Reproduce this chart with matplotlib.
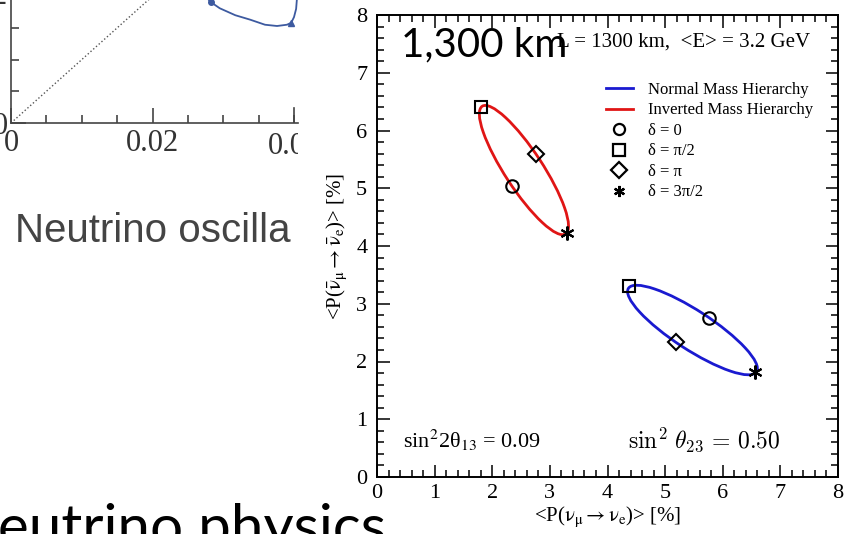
import numpy as np
import matplotlib
matplotlib.use("Agg")
import matplotlib.pyplot as plt
from matplotlib.lines import Line2D
from matplotlib.patches import Ellipse
from matplotlib.ticker import MultipleLocator
from matplotlib.transforms import Bbox, TransformedBbox

plt.rcParams['font.family'] = ['Liberation Serif', 'DejaVu Serif']
plt.rcParams['mathtext.fontset'] = 'stix'

W, H = 844, 534

# main chart: <P> values [%] at delta = 0, pi/2, pi, 3pi/2
nh_x = [5.76, 4.38, 5.19, 6.56]
nh_y = [2.76, 3.30, 2.33, 1.81]
ih_x = [2.34, 1.80, 2.76, 3.29]
ih_y = [5.04, 6.40, 5.59, 4.23]
delta_labels = ['δ = 0', 'δ = π/2', 'δ = π', 'δ = 3π/2']
delta_markers = ['o', 's', 'D', (6, 2, 0)]
hier_labels = ['Normal Mass Hierarchy', 'Inverted Mass Hierarchy']
hier_colors = ['#1a1ad0', '#e01515']

# partial chart at top left (only a corner of it is visible)
diag = [0.0, 0.03]
arc_x = [0.0276, 0.0282, 0.0295, 0.0317, 0.0338, 0.0359, 0.0376, 0.0390, 0.0396, 0.0400, 0.0403, 0.0404, 0.0404]
arc_y = [0.0199, 0.0191, 0.0181, 0.0170, 0.0163, 0.0155, 0.0153, 0.0155, 0.0158, 0.0167, 0.0180, 0.0194, 0.0202]
arc_dot = (0.0282, 0.0191)
arc_tri = (0.0396, 0.0158)


def fx(px):
    return px / W


def fy(py):
    return 1 - py / H


def ellipse_from_delta(xs, ys):
    # P(delta) = c + a cos(delta) + b sin(delta) -> ellipse through the 4 points
    cx, cy = (xs[0] + xs[2]) / 2, (ys[0] + ys[2]) / 2
    m = np.array([[(xs[0] - xs[2]) / 2, (xs[1] - xs[3]) / 2],
                  [(ys[0] - ys[2]) / 2, (ys[1] - ys[3]) / 2]])
    u, s, vt = np.linalg.svd(m)
    ang = np.degrees(np.arctan2(u[1, 0], u[0, 0]))
    return (cx, cy), 2 * s[0], 2 * s[1], ang


fig = plt.figure(figsize=(W / 100, H / 100), dpi=100)

# ---- left partial chart
ax2 = fig.add_axes([fx(11), fy(123), fx(287), 123 / H])
ax2.set_xlim(0, 287 / 7075)
ax2.set_ylim(0, 123 / 6340)
ax2.plot(diag, diag, ls=':', color='#555555', lw=1.0)
ax2.plot(arc_x, arc_y, color='#3d5aa0', lw=1.3)
ax2.plot(*arc_dot, 'o', color='#3d5aa0', ms=4)
ax2.plot(*arc_tri, '^', color='#3d5aa0', ms=4)
for s in ['top', 'right']:
    ax2.spines[s].set_visible(False)
for s in ['left', 'bottom']:
    ax2.spines[s].set_color('#444444')
    ax2.spines[s].set_linewidth(1.2)
ax2.xaxis.set_minor_locator(MultipleLocator(0.005))
ax2.yaxis.set_minor_locator(MultipleLocator(0.005))
ax2.tick_params(which='both', direction='in', colors='#444444', labelsize=22, labelcolor='#333333')
ax2.tick_params(which='major', length=11, width=1.2)
ax2.tick_params(which='minor', length=6, width=1.2)
ax2.tick_params(axis='x', pad=4)
ax2.tick_params(axis='y', pad=2)
ax2.set_xticks([0, 0.02])
ax2.set_xticklabels(['0', '0.02'])
ax2.set_yticks([0])
ax2.axvline(0.04, ymax=15 / 123, color='#444444', lw=1.2)
clip = TransformedBbox(Bbox([[0, 0], [fx(298), 1]]), fig.transFigure)
t = ax2.text(0.04, -0.075, '0.04', transform=ax2.get_xaxis_transform(), ha='center', va='top',
             fontsize=22, color='#333333')
t.set_clip_box(clip)
t.set_clip_on(True)
ax2.text(-0.01, 0.02, '0.02', transform=ax2.get_yaxis_transform(), ha='right', va='center',
         fontsize=22, color='#333333', clip_on=False)

fig.text(fx(15), fy(242), 'Neutrino oscilla', family=['Liberation Sans', 'DejaVu Sans'],
         fontsize=29, color='#444444', va='baseline', ha='left')
fig.text(fx(-2), fy(546), 'eutrino physics', family=['Lato', 'DejaVu Sans'],
         fontsize=42, color='black', va='baseline', ha='left')

# ---- main chart
ax = fig.add_axes([fx(377), fy(477), fx(461), 462 / H])
ax.set_xlim(0, 8)
ax.set_ylim(0, 8)

for xs, ys, c in [(nh_x, nh_y, hier_colors[0]), (ih_x, ih_y, hier_colors[1])]:
    cen, w, h, ang = ellipse_from_delta(xs, ys)
    ax.add_patch(Ellipse(cen, w, h, angle=ang, fill=False, edgecolor=c, lw=2.0, zorder=2))
    for x, y, mk in zip(xs, ys, delta_markers):
        ms = {'o': 9, 's': 9, 'D': 8}.get(mk, 10)
        ax.plot(x, y, marker=mk, ms=ms, mfc='none', mec='black', mew=1.5, ls='none', zorder=3)

for s in ax.spines.values():
    s.set_linewidth(1.4)
ax.xaxis.set_major_locator(MultipleLocator(1))
ax.xaxis.set_minor_locator(MultipleLocator(0.2))
ax.yaxis.set_major_locator(MultipleLocator(1))
ax.yaxis.set_minor_locator(MultipleLocator(0.2))
ax.tick_params(which='both', direction='in', top=True, right=True, labelsize=16, width=1.1)
ax.tick_params(which='major', length=9)
ax.tick_params(which='minor', length=5)
ax.tick_params(axis='y', pad=7)
ax.tick_params(axis='x', pad=5)

ax.set_xlabel(r'<P($\mathrm{\nu_\mu \rightarrow \nu_e}$)> [%]', fontsize=15, labelpad=1)
ax.set_ylabel(r'<P($\mathrm{\bar{\nu}_\mu \rightarrow \bar{\nu}_e}$)> [%]', fontsize=15, va='center')
ax.yaxis.set_label_coords(-0.088, 0.5)

handles = [Line2D([], [], color=c, lw=2) for c in hier_colors]
handles += [Line2D([], [], marker=mk, ms=8, mfc='none', mec='black', mew=1.6, ls='none')
            for mk in delta_markers]
ax.legend(handles, hier_labels + delta_labels, loc='upper left', bbox_to_anchor=(0.497, 0.855),
          frameon=False, fontsize=12, handlelength=1.6, handletextpad=0.9, labelspacing=0.27,
          borderpad=0, borderaxespad=0)

fig.text(fx(810), fy(47), 'L = 1300 km,  <E> = 3.2 GeV', fontsize=15, ha='right', va='baseline')
fig.text(fx(403), fy(448), r'sin$^2$2θ$_{13}$ = 0.09', fontsize=16, ha='left', va='baseline')
fig.text(fx(628), fy(448), r'$\sin^2\,\theta_{23}\,=\,0.50$', fontsize=17, ha='left', va='baseline',
         math_fontfamily='cm')

fig.text(fx(401), fy(56), '1,300 km', family=['Lato', 'DejaVu Sans'], fontsize=29,
         color='black', ha='left', va='baseline')

fig.savefig('out.png', dpi=100)
